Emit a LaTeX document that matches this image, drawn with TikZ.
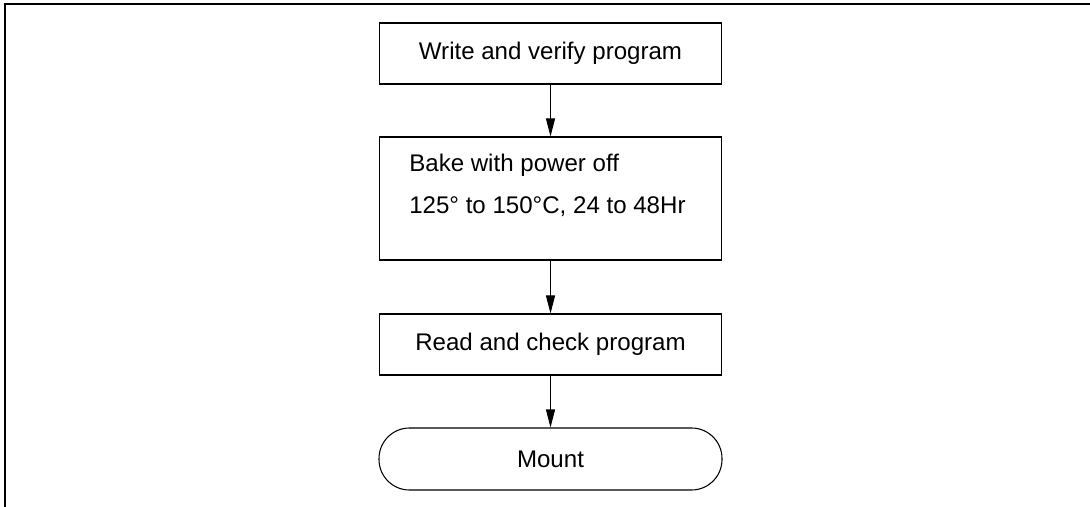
\documentclass[tikz,border=0pt]{standalone}
\usepackage{fontspec}
\setmainfont{Liberation Sans}
\usepackage{tikz}
\usetikzlibrary{arrows.meta,positioning,calc}

\begin{document}
\begin{tikzpicture}
    \tikzstyle{pblock} = [draw=black, line width=0.6pt, minimum width=6.84cm, minimum height=1.22cm, inner sep=0pt, font=\fontsize{13.7}{16}\selectfont, align=center]
    \tikzstyle{parrow} = [line width=0.6pt, -{Triangle[length=0.36cm, width=0.18cm]}, black]

    \useasboundingbox (0, 0) rectangle (21.8, -10.14);
    % frame
    \draw[line width=1.1pt] (0.1, -10.14) -- (0.1, -0.08) -- (21.8, -0.08);

    \node[pblock] (write) at (11.01, -1.07) {Write and verify program};
    \node[pblock, minimum height=2.46cm] (bake) at (11.01, -3.97) {};
    \node[anchor=north west, inner sep=0pt, align=left, font=\fontsize{13.7}{23.9}\selectfont] (baketxt) at ([xshift=0.6cm, yshift=-0.34cm]bake.north west) {Bake with power off\\125° to 150°C, 24 to 48Hr};
    \node[pblock] (read) at (11.01, -6.89) {Read and check program};
    \node[pblock, minimum width=6.86cm, minimum height=1.24cm, rounded corners=0.61cm] (mount) at (11.01, -9.18) {Mount};

    \draw[parrow] (write) -- (bake);
    \draw[parrow] (bake) -- (read);
    \draw[parrow] (read) -- (mount);
\end{tikzpicture}
\end{document}
